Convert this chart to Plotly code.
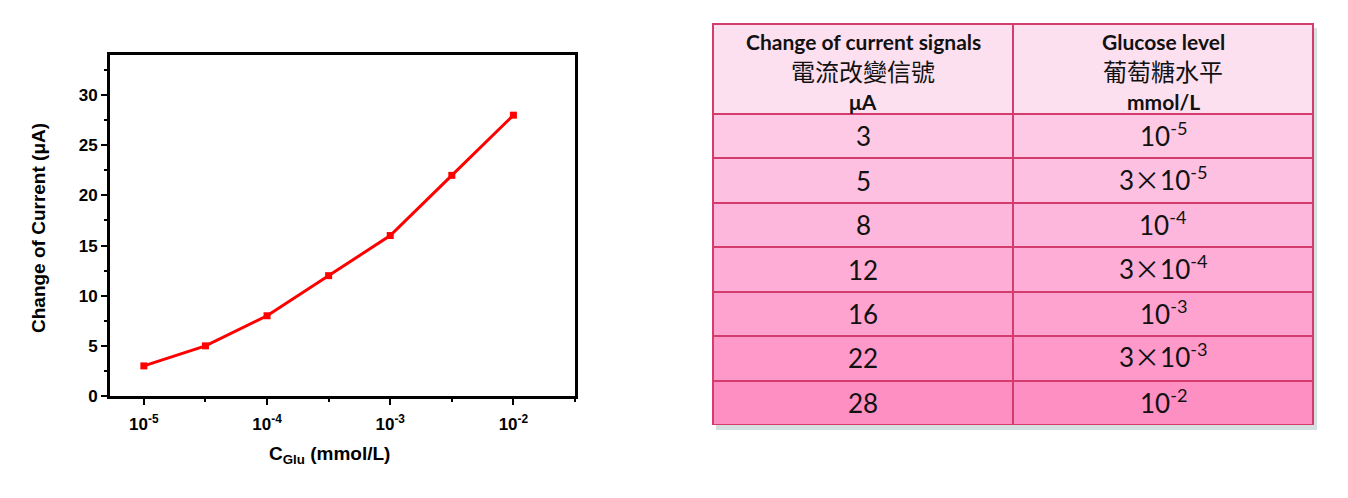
import plotly.graph_objects as go

# ---- data ----
conc_labels = ["1e-5", "3e-5", "1e-4", "3e-4", "1e-3", "3e-3", "1e-2"]
current_uA = [3, 5, 8, 12, 16, 22, 28]
x_tick_text = ["10<sup>-5</sup>", "10<sup>-4</sup>", "10<sup>-3</sup>", "10<sup>-2</sup>"]
table_current = ["3", "5", "8", "12", "16", "22", "28"]
table_glucose = ["10<sup>-5</sup>", "3×10<sup>-5</sup>", "10<sup>-4</sup>", "3×10<sup>-4</sup>",
                 "10<sup>-3</sup>", "3×10<sup>-3</sup>", "10<sup>-2</sup>"]
header_left = ["Change of current signals", "電流改變信號", "μA"]
header_right = ["Glucose level", "葡萄糖水平", "mmol/L"]

# page body has an 8px margin: figure drawn from (8, 8)
OFF = 8
W, H = 1348 - OFF, 498 - OFF


def px(x):
    return (x - OFF) / W


def py(y):
    return 1 - (y - OFF) / H


xpos = list(range(len(conc_labels)))

fig = go.Figure()
fig.add_trace(go.Scatter(
    x=xpos, y=current_uA, mode="lines+markers",
    line=dict(color="#ff0000", width=3),
    marker=dict(symbol="square", size=7, color="#ff0000"),
    showlegend=False, cliponaxis=False,
))

row_colors = ["#fdc9e5", "#fdc0e1", "#fdb7dc", "#feadd6", "#fea3d0", "#fe99ca", "#fe8fc3"]
tbl_x0, tbl_x1, tbl_top, tbl_bot = 713, 1313, 24, 425
hdr_h = 90
row_h = (tbl_bot - tbl_top - hdr_h) / len(table_current)
fig.add_trace(go.Table(
    domain=dict(x=[px(tbl_x0), px(tbl_x1)], y=[py(tbl_bot), py(tbl_top)]),
    columnwidth=[300, 300],
    header=dict(
        values=["", ""],
        fill_color="#fde0f0",
        line=dict(color="#d33c6c", width=2),
        height=hdr_h,
        font=dict(size=10),
    ),
    cells=dict(
        values=[["" for _ in table_current], ["" for _ in table_glucose]],
        fill_color=[row_colors, row_colors],
        line=dict(color="#d33c6c", width=2),
        height=row_h,
        font=dict(size=10),
    ),
))

axis_font = dict(family="Liberation Sans, Arial", size=17, color="black", weight="bold")
title_font = dict(family="Liberation Sans, Arial", size=19, color="black", weight="bold")

annotations = [
    dict(text="C<sub>Glu</sub> (mmol/L)", x=px(329), y=py(455), xref="paper", yref="paper",
         showarrow=False, font=title_font, xanchor="center", yanchor="middle"),
    dict(text="Change of Current (μA)", x=px(38), y=py(228), xref="paper", yref="paper",
         showarrow=False, font=title_font, textangle=-90, xanchor="center", yanchor="middle"),
]

# header text
col_centers = [(tbl_x0 + 1013) / 2, (1013 + tbl_x1) / 2]
line_ys = [42, 71, 101]
line_fonts = [
    dict(family="Lato", size=21, color="#111111", weight="bold"),
    dict(family="Noto Sans CJK TC", size=24, color="#111111"),
    dict(family="Lato", size=21, color="#111111", weight="bold"),
]
for col_center, lines in zip(col_centers, (header_left, header_right)):
    for txt, yy, f in zip(lines, line_ys, line_fonts):
        annotations.append(dict(text=txt, x=px(col_center), y=py(yy), xref="paper", yref="paper",
                                showarrow=False, font=f, xanchor="center", yanchor="middle"))

# body text
X = '<span style="font-family:Noto Sans CJK TC">×</span>'
cell_font = dict(family="Lato", size=26, color="#111111")
for i, (a, b) in enumerate(zip(table_current, table_glucose)):
    yc = tbl_top + hdr_h + row_h * (i + 0.5)
    for col_center, txt in zip(col_centers, (a, b.replace("×", X))):
        annotations.append(dict(text=txt, x=px(col_center), y=py(yc + 18), xref="paper", yref="paper",
                                showarrow=False, font=cell_font, xanchor="center", yanchor="bottom"))

fig.update_layout(
    width=W, height=H,
    margin=dict(l=0, r=0, t=0, b=0),
    paper_bgcolor="white", plot_bgcolor="white",
    xaxis=dict(
        domain=[px(110), px(575)],
        range=[-0.55, 7.0],
        automargin=False,
        tickvals=[0, 2, 4, 6], ticktext=x_tick_text,
        ticks="outside", ticklen=6, tickwidth=2, tickcolor="black",
        ticklabelstandoff=5,
        minor=dict(tickvals=[1, 3, 5, 7], ticks="outside", ticklen=3, tickwidth=2, tickcolor="black"),
        showline=True, linewidth=3, linecolor="black", mirror=True,
        showgrid=False, zeroline=False,
        tickfont=axis_font,
    ),
    yaxis=dict(
        domain=[py(396), py(55)],
        range=[0, 34],
        automargin=False,
        tickvals=[0, 5, 10, 15, 20, 25, 30],
        ticks="outside", ticklen=6, tickwidth=2, tickcolor="black",
        minor=dict(tickvals=[2.5, 7.5, 12.5, 17.5, 22.5, 27.5, 32.5], ticks="outside",
                   ticklen=3, tickwidth=2, tickcolor="black"),
        showline=True, linewidth=3, linecolor="black", mirror=True,
        showgrid=False, zeroline=False,
        tickfont=axis_font,
    ),
    annotations=annotations,
    shapes=[dict(type="rect", xref="paper", yref="paper",
                 x0=px(716), x1=px(1317), y0=py(430), y1=py(28),
                 fillcolor="rgba(90,130,130,0.25)", line=dict(width=0), layer="below")],
)

fig.write_html("out.html")
